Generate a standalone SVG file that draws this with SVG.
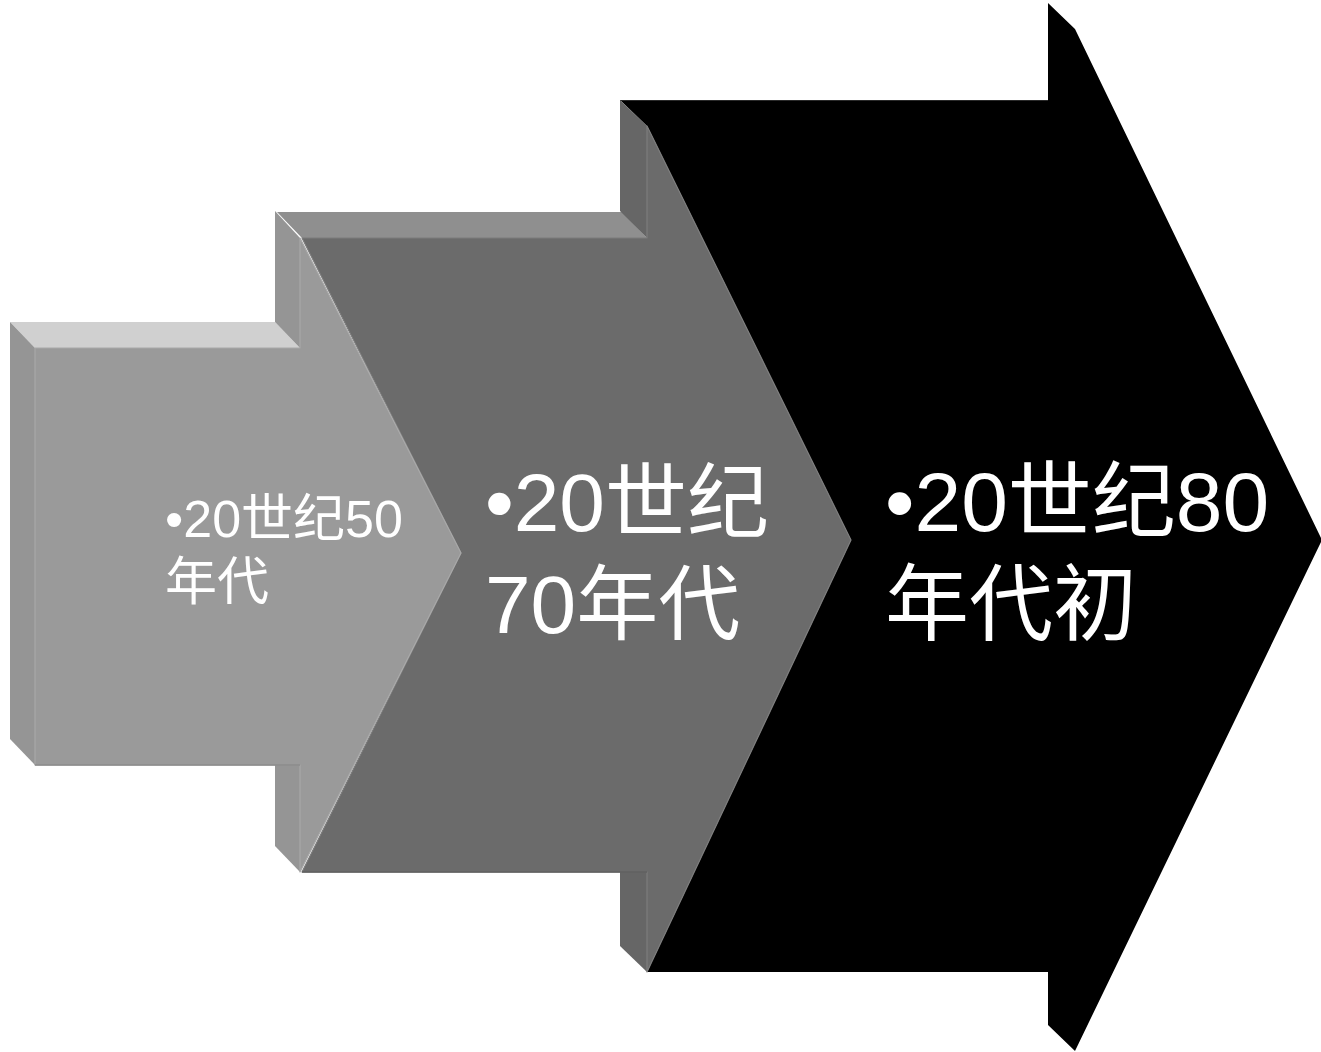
<svg xmlns="http://www.w3.org/2000/svg" width="1321" height="1052" viewBox="0 0 1321 1052">
<style>
  .t { fill: #ffffff; font-family: "Liberation Sans", "Noto Sans CJK SC", sans-serif; }
  .s1face { fill: #9a9a9a; stroke: #a8a8a8; stroke-width: 1.2; stroke-linejoin: round; }
  .s1top { fill: #d0d0d0; }
  .s1side { fill: #959595; }
  .s2face { fill: #6b6b6b; stroke: #7c7c7c; stroke-width: 1.2; stroke-linejoin: round; }
  .s2top { fill: #8f8f8f; }
  .s2side { fill: #666666; }
  .s3 { fill: #000000; }
</style>
<rect width="1321" height="1052" fill="#ffffff"/>

<g id="node-80s">
  <polygon class="s3" points="620,100 1048,100 1048,3 1075,29 1322,540 1075,1051 1048,1025 1048,972 647,972 851,540 647,126"/>
  <line x1="620" y1="100.5" x2="1048" y2="100.5" stroke="#2a2a2a" stroke-width="1"/>
  <text class="t" font-size="84"><tspan x="885" y="531">•20世纪80</tspan><tspan x="885" y="634">年代初</tspan></text>
</g>

<g id="node-70s">
  <polygon class="s2top" points="277,212 622,212 647,238 302,238"/>
  <polygon class="s2side" points="620,100 647,126 647,238 620,211"/>
  <polygon class="s2side" points="620,846 647,872 647,972 620,946"/>
  <polygon class="s2face" points="302,238 647,238 647,126 851,540 647,972 647,872 302,872 461,553"/>
  <line x1="302" y1="872" x2="647" y2="872" stroke="#5e5e5e" stroke-width="1.5"/>
  <text class="t" font-size="82"><tspan x="485" y="531">•20世纪</tspan><tspan x="485" y="633">70年代</tspan></text>
</g>

<g id="node-50s">
  <polygon class="s1top" points="10,322 275,322 300,348 35,348"/>
  <polygon class="s1side" points="10,322 35,348 35,765 10,739"/>
  <polygon class="s1side" points="275,211 300,238 300,348 275,322"/>
  <polygon class="s1side" points="275,739 300,765 300,872 275,846"/>
  <polygon class="s1face" points="35,348 300,348 300,238 461,553 300,872 300,765 35,765"/>
  <line x1="35" y1="765" x2="300" y2="765" stroke="#8a8a8a" stroke-width="1.5"/>
  <text class="t" font-size="52"><tspan x="165" y="537">•20世纪50</tspan><tspan x="165" y="600">年代</tspan></text>
</g>
</svg>
